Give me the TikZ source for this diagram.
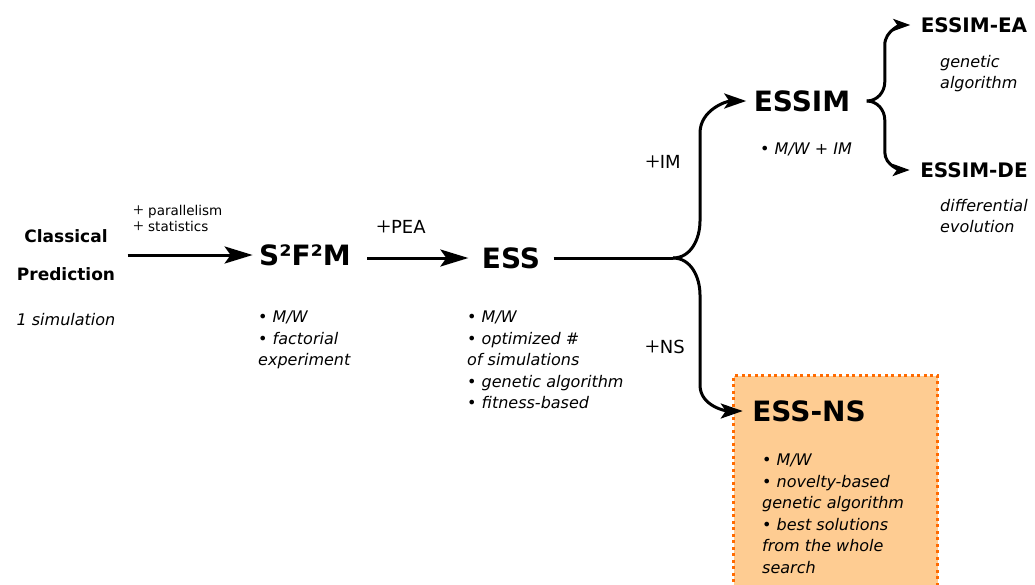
\documentclass[tikz,border=0pt]{standalone}
\usepackage{fontspec}
\setmainfont{DejaVu Sans}
\newfontfamily\plusfont{Liberation Serif}
\newcommand\pl[1]{{\plusfont\fontsize{#1}{#1}\selectfont\raisebox{-0.06em}{+}}}
\usetikzlibrary{arrows.meta,positioning}

\definecolor{nsfill}{HTML}{FECC92}
\definecolor{nsline}{HTML}{FF6A00}

\begin{document}
\begin{tikzpicture}[x=1pt,y=1pt,
  big/.style={font=\fontsize{28}{32}\selectfont\bfseries},
  mid/.style={font=\fontsize{20}{24}\selectfont\bfseries},
  lst/.style={font=\fontsize{16}{21.5}\selectfont\itshape,
    align=left,anchor=north west,inner sep=0pt},
  pls/.style={font=\fontsize{18}{22}\selectfont},
  arr/.style={line width=3pt,-{Stealth[length=28pt,width=17pt,inset=6pt]}},
  brarr/.style={line width=3pt,-{Stealth[length=22pt,width=15pt,inset=5pt]}},
  brc/.style={line width=3pt,-{Stealth[length=17pt,width=12pt,inset=4pt]}}]

  \useasboundingbox (0,0) rectangle (1035,-584);

  %% box behind ESS-NS
  \node[draw=nsline,fill=nsfill,line width=3pt,dash pattern=on 3pt off 3.5pt,
    anchor=north west,minimum width=204pt,minimum height=240pt]
    (nsbox) at (732,-374) {};

  %% main chain
  \node[font=\fontsize{17}{38}\selectfont\bfseries,align=center]
    (cls) at (66,-255) {Classical\\Prediction};
  \node[font=\fontsize{16}{20}\selectfont\itshape] (sim) at (66,-320) {1 simulation};

  \node[big] (s2f2m) at (305,-255) {S²F²M};
  \node[big] (ess) at (511,-258) {ESS};
  \node[big] (essim) at (802,-101) {ESSIM};
  \node[big] (essns) at (809,-411) {ESS-NS};

  \node[mid] (eaa) at (974,-25) {ESSIM-EA};
  \node[mid] (ede) at (974,-170) {ESSIM-DE};

  %% labels on the arrows
  \node[font=\fontsize{13.5}{16}\selectfont,align=left,anchor=south west,inner sep=0pt]
    (par) at (133,-233) {\pl{19} parallelism\\\pl{19} statistics};
  \node[pls] (pea) at (401,-228) {\pl{26}PEA};
  \node[pls] (pim) at (663,-163) {\pl{26}IM};
  \node[pls] (pns) at (665,-348) {\pl{26}NS};

  %% item lists
  \node[lst] (s2l) at (258,-311) {• M/W\\• factorial\\experiment};
  \node[lst] (essl) at (467,-311)
    {• M/W\\• optimized \#\\of simulations\\• genetic algorithm\\• fitness-based};
  \node[lst] (essiml) at (760,-143) {• M/W + IM};
  \node[lst] (eal) at (940,-55) {genetic\\algorithm};
  \node[lst] (del) at (940,-199) {differential\\evolution};
  \node[lst] (nsl) at (762,-454)
    {• M/W\\• novelty-based\\genetic algorithm\\• best solutions\\from the whole\\search};

  %% connectors
  \draw[arr,shorten <=9pt,shorten >=3pt] (cls) -- (s2f2m); %% classical -> s2f2m
  \draw[arr,shorten <=13pt,shorten >=10pt]
    (s2f2m.east |- ess.west) -- (ess.west); %% s2f2m -> ess

  \coordinate (split) at (673,-258);
  \draw[line width=3pt,shorten <=10pt] (ess) -- (split);
  \draw[brarr,shorten >=4pt] (split) to[out=0,in=-90] ++(27,37)
    -- ++(0,88) to[out=90,in=180] (essim.west); %% ess -> essim
  \draw[brarr,shorten >=6pt] (split) to[out=0,in=90] ++(27,-37)
    -- ++(0,-90) to[out=-90,in=180] (essns.west); %% ess -> ess-ns

  \coordinate (bt) at ([xshift=13pt]essim.east);
  \draw[brc,shorten >=7pt] (bt) to[out=0,in=-90] ++(18,19)
    -- ++(0,37) to[out=90,in=180] (eaa.west); %% essim -> ea
  \draw[brc,shorten >=7pt] (bt) to[out=0,in=90] ++(18,-19)
    -- ++(0,-32) to[out=-90,in=180] (ede.west); %% essim -> de

\end{tikzpicture}
\end{document}
